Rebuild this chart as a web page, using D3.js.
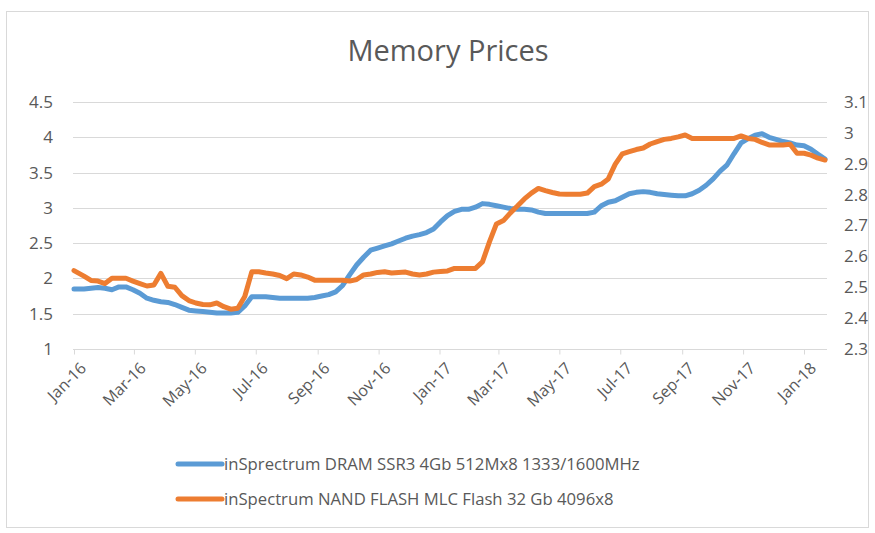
<!DOCTYPE html>
<html>
<head>
<meta charset="utf-8">
<script src="https://cdnjs.cloudflare.com/ajax/libs/d3/7.8.5/d3.min.js"></script>
<style>
  html, body { margin: 0; padding: 0; background: #fff; }
  svg { display: block; font-family: "Open Sans", "Liberation Sans", sans-serif; }
</style>
</head>
<body>
<svg id="chart" width="875" height="533"></svg>
<script>
// ---- data ----
const title = "Memory Prices";
const seriesNames = [
  "inSprectrum DRAM SSR3 4Gb 512Mx8 1333/1600MHz",
  "inSpectrum NAND FLASH MLC Flash 32 Gb 4096x8"
];
const dates = [
  "2016-01-01","2016-01-11","2016-01-18","2016-01-25","2016-02-01","2016-02-08","2016-02-15","2016-02-22","2016-02-29","2016-03-07",
  "2016-03-14","2016-03-21","2016-03-28","2016-04-04","2016-04-11","2016-04-18","2016-04-25","2016-05-02","2016-05-09","2016-05-16",
  "2016-05-23","2016-05-30","2016-06-06","2016-06-13","2016-06-20","2016-06-27","2016-07-04","2016-07-11","2016-07-18","2016-07-25",
  "2016-08-01","2016-08-08","2016-08-15","2016-08-22","2016-08-29","2016-09-05","2016-09-12","2016-09-19","2016-09-26","2016-10-03",
  "2016-10-10","2016-10-17","2016-10-24","2016-10-31","2016-11-07","2016-11-14","2016-11-21","2016-11-28","2016-12-05","2016-12-12",
  "2016-12-19","2016-12-26","2017-01-02","2017-01-09","2017-01-16","2017-01-23","2017-01-30","2017-02-06","2017-02-13","2017-02-20",
  "2017-02-27","2017-03-06","2017-03-13","2017-03-20","2017-03-27","2017-04-03","2017-04-10","2017-04-17","2017-04-24","2017-05-01",
  "2017-05-08","2017-05-15","2017-05-22","2017-05-29","2017-06-05","2017-06-12","2017-06-19","2017-06-26","2017-07-03","2017-07-10",
  "2017-07-17","2017-07-24","2017-07-31","2017-08-07","2017-08-14","2017-08-21","2017-08-28","2017-09-04","2017-09-11","2017-09-18",
  "2017-09-25","2017-10-02","2017-10-09","2017-10-16","2017-10-23","2017-10-30","2017-11-06","2017-11-13","2017-11-20","2017-11-27",
  "2017-12-04","2017-12-11","2017-12-18","2017-12-25","2018-01-01","2018-01-08","2018-01-15","2018-01-22"
];
const dram = [
  1.85,1.85,1.86,1.87,1.86,1.84,1.88,1.88,1.84,1.79,
  1.72,1.69,1.67,1.66,1.63,1.59,1.55,1.54,1.53,1.52,
  1.51,1.51,1.51,1.52,1.61,1.74,1.74,1.74,1.73,1.72,
  1.72,1.72,1.72,1.72,1.73,1.75,1.77,1.81,1.90,2.05,
  2.19,2.30,2.40,2.43,2.46,2.49,2.53,2.57,2.60,2.62,
  2.65,2.70,2.80,2.89,2.95,2.98,2.98,3.01,3.06,3.05,
  3.03,3.01,2.99,2.98,2.98,2.97,2.94,2.92,2.92,2.92,
  2.92,2.92,2.92,2.92,2.94,3.03,3.08,3.10,3.15,3.20,
  3.22,3.23,3.22,3.20,3.19,3.18,3.17,3.17,3.20,3.25,
  3.32,3.41,3.52,3.61,3.77,3.92,3.98,4.03,4.05,4.00,
  3.97,3.94,3.92,3.89,3.88,3.83,3.76,3.69
];
const nand = [
  2.554,2.536,2.522,2.520,2.512,2.529,2.529,2.529,2.520,2.512,
  2.504,2.507,2.545,2.503,2.500,2.473,2.457,2.449,2.444,2.443,
  2.449,2.437,2.429,2.432,2.470,2.550,2.550,2.546,2.543,2.538,
  2.528,2.543,2.540,2.533,2.523,2.523,2.523,2.523,2.523,2.520,
  2.525,2.540,2.543,2.548,2.550,2.546,2.548,2.549,2.543,2.540,
  2.543,2.549,2.551,2.553,2.561,2.561,2.561,2.561,2.582,2.647,
  2.705,2.716,2.741,2.763,2.786,2.805,2.820,2.813,2.807,2.802,
  2.801,2.801,2.801,2.805,2.826,2.834,2.851,2.899,2.932,2.939,
  2.946,2.951,2.964,2.972,2.979,2.982,2.987,2.993,2.982,2.982,
  2.982,2.982,2.982,2.982,2.982,2.990,2.982,2.979,2.969,2.961,
  2.961,2.961,2.963,2.934,2.934,2.928,2.918,2.912
];
const leftTicks = [1, 1.5, 2, 2.5, 3, 3.5, 4, 4.5];
const rightTicks = [2.3, 2.4, 2.5, 2.6, 2.7, 2.8, 2.9, 3.0, 3.1];

// ---- layout ----
const svg = d3.select("#chart");
const W = 875, H = 533;
const plot = { left: 74, right: 825, top: 102, bottom: 349 };
const textColor = "#595959";
const gridColor = "#d9d9d9";
const colors = ["#5B9BD5", "#ED7D31"];
const font = "'Open Sans', 'Liberation Sans', sans-serif";

const parse = d3.timeParse("%Y-%m-%d");
const dateObjs = dates.map(parse);

const x = d3.scaleTime().domain(d3.extent(dateObjs)).range([plot.left, plot.right]);
const yL = d3.scaleLinear().domain([1, 4.5]).range([plot.bottom, plot.top]);
const yR = d3.scaleLinear().domain([2.3, 3.1]).range([plot.bottom, plot.top]);

// chart area border
svg.append("rect")
  .attr("x", 6.5).attr("y", 11.5)
  .attr("width", W - 13).attr("height", H - 17)
  .attr("fill", "#fff").attr("stroke", "#d9d9d9").attr("stroke-width", 1);

// title
svg.append("text")
  .attr("x", 448).attr("y", 61)
  .attr("text-anchor", "middle")
  .attr("font-size", 29)
  .attr("fill", textColor)
  .text(title);

// gridlines (left axis)
svg.append("g")
  .selectAll("line")
  .data(leftTicks)
  .join("line")
  .attr("x1", plot.left - 1).attr("x2", plot.right + 2)
  .attr("y1", d => Math.round(yL(d)) + 0.5).attr("y2", d => Math.round(yL(d)) + 0.5)
  .attr("stroke", gridColor).attr("stroke-width", 1);

// left axis labels
const gLeft = svg.append("g")
  .attr("transform", `translate(${plot.left - 21},0)`)
  .call(d3.axisLeft(yL).tickValues(leftTicks).tickSize(0).tickPadding(0).tickFormat(d3.format("")));
gLeft.select(".domain").remove();
gLeft.selectAll("text").attr("fill", textColor).attr("font-size", 17).attr("font-family", font);

// right axis labels
const gRight = svg.append("g")
  .attr("transform", `translate(${plot.right + 19},0)`)
  .call(d3.axisRight(yR).tickValues(rightTicks).tickSize(0).tickPadding(0).tickFormat(d3.format("")));
gRight.select(".domain").remove();
gRight.selectAll("text").attr("fill", textColor).attr("font-size", 17).attr("font-family", font);

// x axis
const xTicks = x.ticks(d3.timeMonth.every(2));
const gX = svg.append("g")
  .attr("transform", `translate(0,${Math.round(plot.bottom) + 0.5})`)
  .call(d3.axisBottom(x).tickValues(xTicks).tickSize(5).tickSizeOuter(0).tickFormat(d3.timeFormat("%b-%y")));
gX.select(".domain").attr("stroke", gridColor).attr("d", `M${plot.left - 1},0H${plot.right + 2}`);
gX.selectAll(".tick line").attr("stroke", gridColor);
gX.selectAll("text")
  .attr("fill", textColor).attr("font-size", 16).attr("font-family", font)
  .attr("text-anchor", "end")
  .attr("dy", "0")
  .attr("transform", "translate(7,14) rotate(-45)");

// lines
const lineL = d3.line().x((d, i) => x(dateObjs[i])).y(d => yL(d)).curve(d3.curveLinear);
const lineR = d3.line().x((d, i) => x(dateObjs[i])).y(d => yR(d)).curve(d3.curveLinear);

svg.append("path").datum(dram)
  .attr("d", lineL).attr("fill", "none")
  .attr("stroke", colors[0]).attr("stroke-width", 5)
  .attr("stroke-linejoin", "round").attr("stroke-linecap", "round");
svg.append("path").datum(nand)
  .attr("d", lineR).attr("fill", "none")
  .attr("stroke", colors[1]).attr("stroke-width", 5)
  .attr("stroke-linejoin", "round").attr("stroke-linecap", "round");

// legend
const legend = svg.append("g");
const legendRows = [464, 499];
seriesNames.forEach((name, i) => {
  const g = legend.append("g").attr("transform", `translate(178,${legendRows[i]})`);
  g.append("line").attr("x1", 0).attr("x2", 44).attr("y1", 0).attr("y2", 0)
    .attr("stroke", colors[i]).attr("stroke-width", 5).attr("stroke-linecap", "round");
  g.append("text").attr("x", 46).attr("y", 6)
    .attr("font-size", 16.7).attr("fill", textColor)
    .text(name);
});
</script>
</body>
</html>
